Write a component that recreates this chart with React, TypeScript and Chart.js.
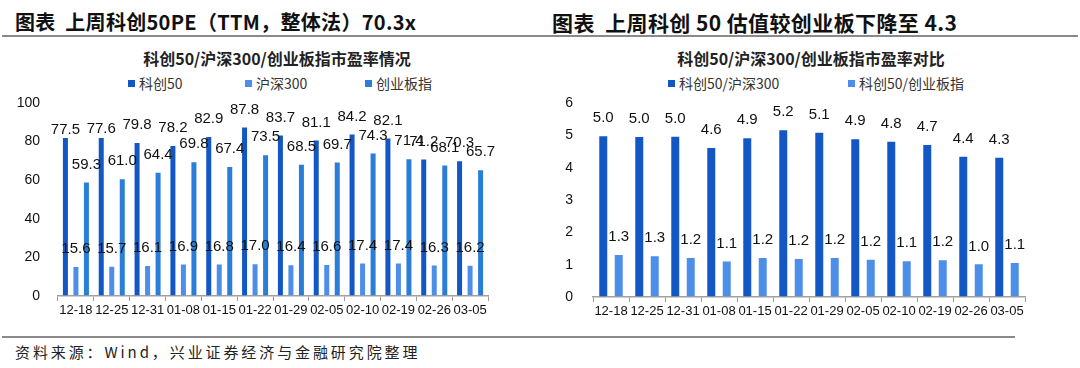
import React, { useEffect, useRef } from "react";
import { Chart, registerables } from "chart.js";

Chart.register(...registerables);

// ---------- data ----------
const dates = ["12-18", "12-25", "12-31", "01-08", "01-15", "01-22", "01-29", "02-05", "02-10", "02-19", "02-26", "03-05"];

// 科创50 PE: printed labels, and bar heights as drawn in the picture
const kc50Labels = [77.5, 77.6, 79.8, 78.2, 82.9, 87.8, 83.7, 81.1, 84.2, 82.1, 71.2, 70.3];
const kc50Bars = [82.4, 82.4, 79.8, 78.2, 82.9, 87.8, 83.7, 81.1, 84.2, 82.1, 71.2, 70.3];
const hs300 = [15.6, 15.7, 16.1, 16.9, 16.8, 17.0, 16.4, 16.6, 17.4, 17.4, 16.3, 16.2];
const cyb = [59.3, 61.0, 64.4, 69.8, 67.4, 73.5, 68.5, 69.7, 74.3, 71.4, 68.1, 65.7];

// ratios
const kcVsHs = [5.0, 4.98, 4.99, 4.64, 4.94, 5.19, 5.11, 4.91, 4.83, 4.73, 4.37, 4.34];
const kcVsCy = [1.33, 1.29, 1.24, 1.13, 1.24, 1.21, 1.24, 1.18, 1.14, 1.17, 1.04, 1.08];

const leftMax = 100;
const leftStep = 20;
const rightMax = 6;
const rightStep = 1;

const leftTitle = "图表  上周科创50PE（TTM，整体法）70.3x";
const rightTitle = "图表  上周科创 50 估值较创业板下降至 4.3";
const leftSub = "科创50/沪深300/创业板指市盈率情况";
const rightSub = "科创50/沪深300/创业板指市盈率对比";
const leftLegend = ["科创50", "沪深300", "创业板指"];
const rightLegend = ["科创50/沪深300", "科创50/创业板指"];
const source = "资料来源：Wind，兴业证券经济与金融研究院整理";

const C_DARK = "#1257C4";
const C_LIGHT = "#4D8EEA";
const C_MID = "#2B7ED7";

const CJK = '"Noto Sans CJK SC", "Liberation Sans", sans-serif';
const LAT = '"Liberation Sans", Arial, sans-serif';

const barLabelPlugin = {
  id: "barLabels",
  afterDatasetsDraw(chart: any, _args: any, opts: any) {
    const ctx = chart.ctx;
    const y = chart.scales.y;
    ctx.save();
    ctx.font = `${opts.size}px ${LAT}`;
    ctx.fillStyle = "#111";
    ctx.textAlign = "center";
    ctx.textBaseline = "middle";
    chart.data.datasets.forEach((ds: any, i: number) => {
      const meta = chart.getDatasetMeta(i);
      const vals = ds.labelValues || ds.data;
      meta.data.forEach((bar: any, j: number) => {
        const v = vals[j];
        const py = y.getPixelForValue(v) - opts.offset;
        ctx.fillText(Number(v).toFixed(1), bar.x, py);
      });
    });
    ctx.restore();
  },
};

function makeOptions(max: number, step: number, yWidth: number, yGap: number, rightPad: number, labelSize: number, cat: number, bar: number) {
  return {
    responsive: false,
    animation: false as const,
    layout: { padding: { left: 0, right: rightPad, top: 13, bottom: 0 } },
    datasets: { bar: { categoryPercentage: cat, barPercentage: bar } },
    plugins: {
      legend: { display: false },
      title: { display: false },
      tooltip: { enabled: false },
      barLabels: { offset: 17, size: labelSize },
    },
    scales: {
      x: {
        grid: { display: true, drawOnChartArea: false, drawTicks: true, tickLength: 5, color: "#9a9a9a", offset: true },
        border: { display: true, color: "#a0a0a0", width: 1.5 },
        ticks: { font: { size: 13, family: LAT }, color: "#111", padding: 2, maxRotation: 0, autoSkip: false },
        afterFit: (s: any) => { s.height = 24; },
      },
      y: {
        min: 0,
        max,
        ticks: { stepSize: step, font: { size: 14, family: LAT }, color: "#111", padding: 0 },
        grid: { display: true, drawOnChartArea: false, drawTicks: true, tickLength: yGap, color: "rgba(0,0,0,0)" },
        border: { display: false },
        afterFit: (s: any) => { s.width = yWidth; },
      },
    },
  };
}

function LeftChart() {
  const ref = useRef<HTMLCanvasElement>(null);
  useEffect(() => {
    const chart = new Chart(ref.current as HTMLCanvasElement, {
      type: "bar",
      data: {
        labels: dates,
        datasets: [
          { label: leftLegend[0], data: kc50Bars, labelValues: kc50Labels, backgroundColor: C_DARK, borderColor: "rgba(255,255,255,0.35)", borderWidth: 1 } as any,
          { label: leftLegend[1], data: hs300, backgroundColor: C_LIGHT, borderColor: "rgba(255,255,255,0.35)", borderWidth: 1 },
          { label: leftLegend[2], data: cyb, backgroundColor: C_MID, borderColor: "rgba(255,255,255,0.35)", borderWidth: 1 },
        ],
      },
      options: makeOptions(leftMax, leftStep, 58, 18, 52, 15, 0.88, 0.667) as any,
      plugins: [barLabelPlugin],
    });
    return () => chart.destroy();
  }, []);
  return <canvas ref={ref} width={540} height={230} style={{ position: "absolute", left: 0, top: 90 }} />;
}

function RightChart() {
  const ref = useRef<HTMLCanvasElement>(null);
  useEffect(() => {
    const chart = new Chart(ref.current as HTMLCanvasElement, {
      type: "bar",
      data: {
        labels: dates,
        datasets: [
          { label: rightLegend[0], data: kcVsHs, backgroundColor: C_DARK, borderColor: "rgba(255,255,255,0.35)", borderWidth: 1 },
          { label: rightLegend[1], data: kcVsCy, backgroundColor: C_LIGHT, borderColor: "rgba(255,255,255,0.35)", borderWidth: 1 },
        ],
      },
      options: makeOptions(rightMax, rightStep, 53, 20, 55, 15, 0.86, 0.645) as any,
      plugins: [barLabelPlugin],
    });
    return () => chart.destroy();
  }, []);
  return <canvas ref={ref} width={540} height={231} style={{ position: "absolute", left: 540, top: 90 }} />;
}

function LegendItem({ x, color, text }: { x: number; color: string; text: string }) {
  return (
    <div style={{ position: "absolute", left: x, top: 75, height: 16, display: "flex", alignItems: "center", whiteSpace: "nowrap" }}>
      <span style={{ display: "inline-block", width: 7, height: 7, background: color, marginRight: 4 }} />
      <span style={{ font: `14px ${CJK}`, color: "#333", lineHeight: "16px" }}>{text}</span>
    </div>
  );
}

export default function App() {
  const titleStyle: React.CSSProperties = {
    position: "absolute",
    top: 11,
    fontFamily: CJK,
    fontWeight: "bold",
    lineHeight: "22px",
    color: "#111",
    whiteSpace: "pre",
  };
  const subStyle: React.CSSProperties = {
    position: "absolute",
    top: 48,
    width: 400,
    textAlign: "center",
    font: `bold 16px ${CJK}`,
    lineHeight: "20px",
    color: "#222",
    whiteSpace: "nowrap",
  };
  return (
    <div style={{ position: "fixed", left: 0, top: 0, width: 1080, height: 368, background: "#fff", overflow: "hidden" }}>
      <div style={{ ...titleStyle, left: 15, fontSize: 20, letterSpacing: "0.3px" }}>{leftTitle}</div>
      <div style={{ ...titleStyle, left: 552, fontSize: 21, letterSpacing: "0.4px" }}>{rightTitle}</div>
      <div style={{ position: "absolute", left: 2, top: 35, width: 1076, height: 2, background: "#8a8a8a" }} />
      <div style={{ ...subStyle, left: 277 - 200 }}>{leftSub}</div>
      <div style={{ ...subStyle, left: 811 - 200 }}>{rightSub}</div>
      <LegendItem x={128} color={C_DARK} text={leftLegend[0]} />
      <LegendItem x={245} color={C_LIGHT} text={leftLegend[1]} />
      <LegendItem x={365} color={C_MID} text={leftLegend[2]} />
      <LegendItem x={668} color={C_DARK} text={rightLegend[0]} />
      <LegendItem x={848} color={C_LIGHT} text={rightLegend[1]} />
      <LeftChart />
      <RightChart />
      <div style={{ position: "absolute", left: 2, top: 336, width: 1013, height: 2, background: "#8a8a8a" }} />
      <div style={{ position: "absolute", left: 15, top: 343, font: `15px ${CJK}`, letterSpacing: "2.9px", lineHeight: "18px", color: "#222", whiteSpace: "nowrap" }}>
        {source}
      </div>
    </div>
  );
}
